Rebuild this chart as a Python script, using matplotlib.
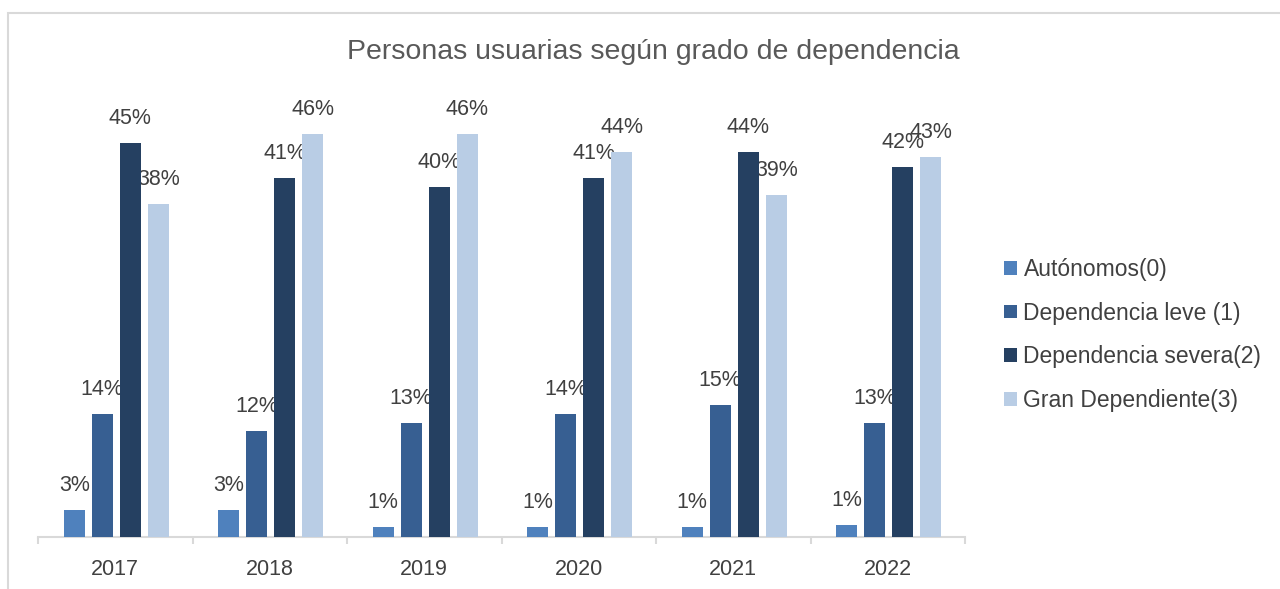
import matplotlib
matplotlib.use("Agg")
import matplotlib.pyplot as plt
import numpy as np
from matplotlib.patches import Rectangle, Patch

plt.rcParams['font.family'] = ['Liberation Sans', 'DejaVu Sans']

# datos (proporciones)
anios = ['2017', '2018', '2019', '2020', '2021', '2022']
series = ['Autónomos(0)', 'Dependencia leve (1)', 'Dependencia severa(2)', 'Gran Dependiente(3)']
autonomos = [0.031, 0.031, 0.011, 0.011, 0.011, 0.014]
leve = [0.140, 0.121, 0.130, 0.140, 0.151, 0.130]
severa = [0.450, 0.410, 0.400, 0.410, 0.440, 0.422]
gran = [0.380, 0.460, 0.460, 0.440, 0.390, 0.434]
valores = [autonomos, leve, severa, gran]
colores = ['#4f81bd', '#375f92', '#254061', '#b9cde5']

fig = plt.figure(figsize=(12.8, 5.89), dpi=100)
ax = fig.add_axes([38/1280, 52/589, (965-38)/1280, (537-99)/589])

x = np.arange(len(anios))
paso = 0.181
ancho = 0.137
for i, (nombre, vals, col) in enumerate(zip(series, valores, colores)):
    pos = x + (i - 1.5) * paso + 0.006
    barras = ax.bar(pos, vals, ancho, color=col, label=nombre, zorder=3)
    etiquetas = ax.bar_label(barras, labels=[f'{v*100:.0f}%' for v in vals],
                             padding=10, fontsize=15.5, color='#404040')
    for t in etiquetas:
        t.set_zorder(1)

ax.set_xlim(-0.5, len(anios) - 0.5)
ax.set_ylim(0, 0.5)
ax.set_yticks([])
for s in ['left', 'right', 'top']:
    ax.spines[s].set_visible(False)
ax.spines['bottom'].set_color('#d9d9d9')
ax.spines['bottom'].set_linewidth(1.5)
ax.set_xticks(x)
ax.set_xticklabels(anios, fontsize=15.5, color='#404040')
ax.set_xticks(np.arange(-0.5, len(anios)), minor=True)
ax.tick_params(axis='x', which='major', length=0, pad=15.5)
ax.tick_params(axis='x', which='minor', length=5, width=1.5, color='#d9d9d9')
ax.patch.set_alpha(0)

fig.text(653/1280, 1 - 52/589, 'Personas usuarias según grado de dependencia',
         ha='center', va='center', fontsize=20.5, color='#595959')

# marco del grafico
fig.patches.append(Rectangle((8/1280, -0.5), 2, 1.5 - 13/589, transform=fig.transFigure,
                             fill=False, edgecolor='#d9d9d9', linewidth=1.5))

manejadores = [Patch(facecolor=c, edgecolor='none') for c in colores]
fig.legend(manejadores, series, loc='center left', bbox_to_anchor=(1004/1280, 1 - 335/589),
           frameon=False, fontsize=16.5, labelcolor='#404040', handlelength=0.55,
           handleheight=0.55, handletextpad=0.3, labelspacing=0.9, borderpad=0,
           borderaxespad=0)

fig.savefig('out.png', dpi=100, facecolor='white')
